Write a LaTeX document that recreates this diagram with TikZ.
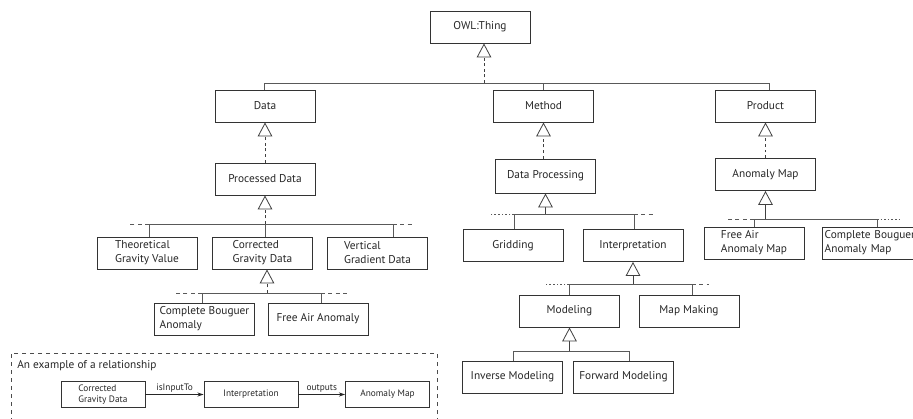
\documentclass[tikz,border=0pt]{standalone}
\usepackage{fontspec}
\setmainfont{PT Sans}
\usetikzlibrary{arrows.meta}

\tikzset{
  box/.style={draw=black!80, line width=0.7pt, minimum width=75pt, minimum height=24pt,
    inner sep=1pt, align=left, text=black!85, font=\fontsize{8.5pt}{10.5pt}\selectfont},
  smallbox/.style={box, minimum width=63pt, minimum height=20pt, font=\fontsize{7pt}{8.5pt}\selectfont},
  isa/.style={draw=black!75, line width=0.6pt, -{Triangle[open, length=10.5pt, width=11pt, fill=white]}},
  isad/.style={isa, dash pattern=on 2.2pt off 2pt},
  bus/.style={draw=black!65, line width=0.6pt},
  busdash/.style={bus, dash pattern=on 3pt off 2.5pt},
  busdot/.style={bus, dash pattern=on 1.2pt off 1.5pt},
  rel/.style={draw=black!85, line width=0.75pt, -{Stealth[length=4.5pt, width=3pt]}},
  rellabel/.style={above, inner sep=1.5pt, text=black!85, font=\fontsize{7pt}{8pt}\selectfont}
}

\begin{document}
\begin{tikzpicture}[x=0.75pt,y=0.75pt,yscale=-1,xscale=1]
\useasboundingbox (0,0) rectangle (913,418);
\clip (0,0) rectangle (913,418);

% Classes
\node[box] (owl) at (480,27) {OWL:Thing};
\node[box] (data) at (265,106) {Data};
\node[box] (method) at (543.5,106) {Method};
\node[box] (product) at (765.5,106) {Product};
\node[box] (procdata) at (265,179) {Processed Data};
\node[box, minimum height=25.5pt] (dataproc) at (545.5,176) {Data Processing};
\node[box] (anommap) at (765.5,174.5) {Anomaly Map};
\node[box] (theo) at (147,253) {Theoretical\\Gravity Value};
\node[box] (corr) at (262.5,253) {Corrected\\Gravity Data};
\node[box] (vgrad) at (377.5,253) {Vertical\\Gradient Data};
\node[box] (cba) at (204.5,319) {Complete Bouguer\\Anomaly};
\node[box] (faa) at (318,319) {Free Air Anomaly};
\node[box] (grid) at (513,245.5) {Gridding};
\node[box] (interp) at (633,245.5) {Interpretation};
\node[box] (model) at (569.5,311) {Modeling};
\node[box] (mapmk) at (689,311) {Map Making};
\node[box] (inv) at (512.5,377) {Inverse Modeling};
\node[box] (fwd) at (623.5,377) {Forward Modeling};
\node[box] (faam) at (754,243) {Free Air\\Anomaly Map};
\node[box, text width=71pt] (cbam) at (872,243) {Complete Bouguer\\Anomaly Map};

% OWL:Thing
\coordinate (top-l) at (264,83);
\coordinate (top-r) at (769,83);
\coordinate (top-m) at (484,83);
\draw[bus] (top-l |- data.north) -- (top-l) -- (top-r) -- (top-r |- product.north);
\draw[bus] (method.north) -- (method.north |- top-l);
\draw[isad] (top-m) -- (top-m |- owl.south);
\draw[isad] (data.north |- procdata.north) -- (data.south);
\draw[isad] (method.north |- dataproc.north) -- (method.south |- data.south);
\draw[isad] (product.north |- anommap.north) -- (product.south);

% Processed Data
\coordinate (pd-l) at (149,224);
\coordinate (pd-r) at (393,224);
\draw[bus] (pd-l |- theo.north) -- (pd-l) -- (pd-r) -- (pd-r |- vgrad.north);
\draw[bus] (procdata.south |- corr.north) -- (procdata.south |- pd-l);
\draw[isad] (procdata.south |- pd-l) -- (procdata.south);
\draw[busdash] (pd-l) -- ++(-19,0);
\draw[busdash] (pd-r) -- ++(20,0);

% Corrected Gravity Data
\coordinate (cg-l) at (202,293);
\coordinate (cg-r) at (321,293);
\coordinate (cg-m) at (267,293);
\draw[bus] (cg-l |- cba.north) -- (cg-l) -- (cg-r) -- (cg-r |- faa.north);
\draw[isad] (cg-m) -- (cg-m |- corr.south);
\draw[busdash] (cg-l) -- ++(-28,0);
\draw[busdash] (cg-r) -- ++(26,0);

% Data Processing
\coordinate (dp-l) at (514,214);
\coordinate (dp-r) at (634,214);
\draw[bus] (dp-l |- grid.north) -- (dp-l) -- (dp-r) -- (dp-r |- interp.north);
\draw[isa] (dataproc.south |- dp-l) -- (dataproc.south);
\draw[busdot] (dp-l) -- ++(-25,0);
\draw[busdash] (dp-r) -- ++(20,0);

% Interpretation
\coordinate (in-l) at (569,284);
\coordinate (in-r) at (692,284);
\draw[bus] (in-l |- model.north) -- (in-l) -- (in-r) -- (in-r |- mapmk.north);
\draw[isa] (interp.south |- in-l) -- (interp.south);
\draw[busdot] (in-l) -- ++(-23,0);
\draw[busdash] (in-r) -- ++(17,0);

% Modeling
\coordinate (mo-l) at (513,351);
\coordinate (mo-r) at (629,351);
\draw[bus] (mo-l |- inv.north) -- (mo-l) -- (mo-r) -- (mo-r |- fwd.north);
\draw[isa] (model.south |- mo-l) -- (model.south);

% Anomaly Map
\coordinate (am-l) at (754,219);
\coordinate (am-r) at (877,219);
\draw[bus] (am-l |- faam.north) -- (am-l) -- (am-r) -- (am-r |- cbam.north);
\draw[isa] (anommap.south |- am-l) -- (anommap.south);
\draw[busdash] (am-l) -- ++(-27,0);
\draw[busdot] (am-r) -- ++(24,0);

% Relationship example
\draw[draw=black!70, line width=0.6pt, dash pattern=on 3pt off 3pt] (437,430) -- (437,353) -- (11,353) -- (11,430);
\node[anchor=west, inner sep=0pt, text=black!85, font=\fontsize{8.5pt}{10pt}\selectfont] (extitle) at (17,366) {An example of a relationship};
\node[smallbox] (rcorr) at (103,394.5) {Corrected\\Gravity Data};
\node[smallbox, minimum width=70.5pt] (rinterp) at (251,394.5) {Interpretation};
\node[smallbox] (ranom) at (387.5,394.5) {Anomaly Map};
\draw[rel] (rcorr) -- node[rellabel] {isInputTo} (rinterp);
\draw[rel] (rinterp) -- node[rellabel] {outputs} (ranom);

\end{tikzpicture}
\end{document}
